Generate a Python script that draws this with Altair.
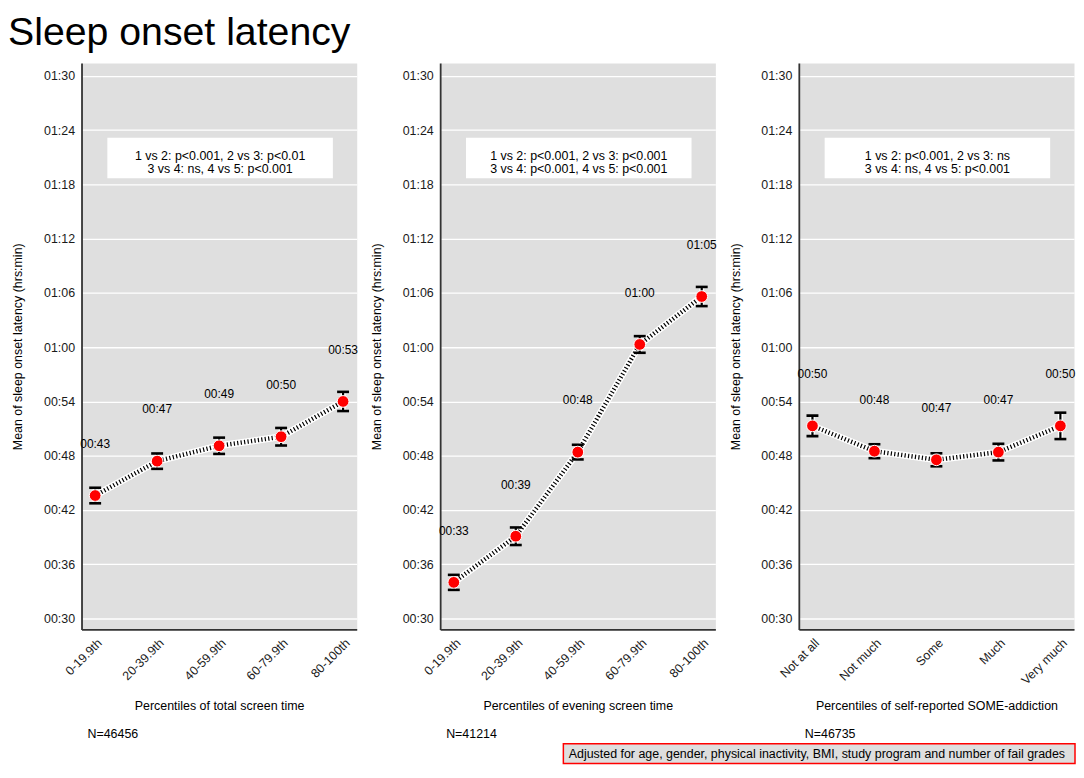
import altair as alt
import pandas as pd

# ---------------- data ----------------
cats_screen = ["0-19.9th", "20-39.9th", "40-59.9th", "60-79.9th", "80-100th"]
cats_some = ["Not at all", "Not much", "Some", "Much", "Very much"]

total_mean = [43.6, 47.4, 49.1, 50.1, 54.0]
total_err = [0.86, 0.85, 0.90, 0.97, 1.06]
total_labels = ["00:43", "00:47", "00:49", "00:50", "00:53"]

evening_mean = [34.0, 39.1, 48.4, 60.3, 65.6]
evening_err = [0.83, 0.97, 0.81, 0.92, 1.06]
evening_labels = ["00:33", "00:39", "00:48", "01:00", "01:05"]

some_mean = [51.3, 48.5, 47.55, 48.4, 51.3]
some_err = [1.13, 0.77, 0.72, 0.92, 1.46]
some_labels = ["00:50", "00:48", "00:47", "00:47", "00:50"]

x_titles = [
    "Percentiles of total screen time",
    "Percentiles of evening screen time",
    "Percentiles of self-reported SOME-addiction",
]
n_texts = ["N=46456", "N=41214", "N=46735"]
annotations = [
    "1 vs 2: p<0.001, 2 vs 3: p<0.01\n3 vs 4: ns, 4 vs 5: p<0.001",
    "1 vs 2: p<0.001, 2 vs 3: p<0.001\n3 vs 4: p<0.001, 4 vs 5: p<0.001",
    "1 vs 2: p<0.001, 2 vs 3: ns\n3 vs 4: ns, 4 vs 5: p<0.001",
]
footnote = "Adjusted for age, gender, physical inactivity, BMI, study program and number of fail grades"
y_title = "Mean of sleep onset latency (hrs:min)"
main_title = "Sleep onset latency"
y_ticks = [30, 36, 42, 48, 54, 60, 66, 72, 78, 84, 90]
y_domain = [28.8, 91.4]

W = 277
H = 570
FONT = "Liberation Sans"

label_expr = ("'0' + floor(datum.value / 60) + ':' + "
              "(datum.value % 60 < 10 ? '0' : '') + (datum.value % 60)")


def panel(cats, means, errs, labels, xtitle, ntext, annot, with_footnote=False):
    df = pd.DataFrame({
        "cat": cats,
        "mean": means,
        "lo": [m - e for m, e in zip(means, errs)],
        "hi": [m + e for m, e in zip(means, errs)],
        "label": labels,
    })

    def X():
        return alt.X(
            "cat:N", sort=cats,
            scale=alt.Scale(type="point", padding=0.22),
            axis=alt.Axis(title=xtitle, labelAngle=-45, labelAlign="right",
                          labelBaseline="top", labelPadding=7, ticks=False,
                          grid=False, labelOverlap=False,
                          titleY=77, titleBaseline="middle"),
        )

    def Y(field):
        return alt.Y(
            f"{field}:Q",
            scale=alt.Scale(domain=y_domain, nice=False, zero=False),
            axis=alt.Axis(title=y_title, values=y_ticks, labelExpr=label_expr,
                          labelPadding=7, ticks=False, grid=True,
                          titleX=-57, titleY=H / 2, titleBaseline="bottom",
                          titleAngle=-90),
        )

    base = alt.Chart(df)
    box = alt.Chart(pd.DataFrame({"t": [annot]})).mark_rect(fill="white").encode(
        x=alt.value(26), x2=alt.value(253), y=alt.value(75), y2=alt.value(116))
    box_text = alt.Chart(pd.DataFrame({"t": [annot]})).mark_text(
        lineBreak="\n", fontSize=12.5, lineHeight=13, align="center",
        baseline="middle", color="black").encode(
        x=alt.value(139.5), y=alt.value(94), text="t:N")

    halo = base.mark_line(color="white", strokeWidth=7).encode(x=X(), y=Y("mean"))
    dots = base.mark_line(color="black", strokeWidth=4.5,
                          strokeDash=[1.2, 2.3]).encode(x=X(), y=Y("mean"))
    rule_halo = base.mark_rule(color="white", strokeWidth=5).encode(
        x=X(), y=Y("lo"), y2="hi:Q")
    rule = base.mark_rule(color="black", strokeWidth=2.2).encode(
        x=X(), y=Y("lo"), y2="hi:Q")
    tick_lo = base.mark_tick(color="black", size=12, thickness=2.6, opacity=1).encode(
        x=X(), y=Y("lo"))
    tick_hi = base.mark_tick(color="black", size=12, thickness=2.6, opacity=1).encode(
        x=X(), y=Y("hi"))
    pts = base.mark_circle(size=140, color="#ff0000", opacity=1,
                           stroke="white", strokeWidth=1).encode(x=X(), y=Y("mean"))
    txt = base.mark_text(dy=-52, fontSize=12, color="black").encode(
        x=X(), y=Y("mean"), text="label:N")

    ntxt = alt.Chart(pd.DataFrame({"t": [ntext]})).mark_text(
        align="left", baseline="middle", fontSize=12.5, color="black").encode(
        x=alt.value(6), y=alt.value(H + 105), text="t:N")

    layers = [halo, box, box_text, dots, rule_halo, rule, tick_lo, tick_hi, pts, txt, ntxt]
    if with_footnote:
        fbox = alt.Chart(pd.DataFrame({"t": [footnote]})).mark_rect(
            fill="#dedede", stroke="#ff0000", strokeWidth=1.5).encode(
            x=alt.value(-237), x2=alt.value(278),
            y=alt.value(H + 115), y2=alt.value(H + 135))
        ftxt = alt.Chart(pd.DataFrame({"t": [footnote]})).mark_text(
            align="right", baseline="middle", fontSize=12.5, color="black").encode(
            x=alt.value(268), y=alt.value(H + 125), text="t:N")
        layers += [fbox, ftxt]
    return alt.layer(*layers).properties(width=W, height=H)


p1 = panel(cats_screen, total_mean, total_err, total_labels,
           x_titles[0], n_texts[0], annotations[0])
p2 = panel(cats_screen, evening_mean, evening_err, evening_labels,
           x_titles[1], n_texts[1], annotations[1])
p3 = panel(cats_some, some_mean, some_err, some_labels,
           x_titles[2], n_texts[2], annotations[2], with_footnote=True)

chart = alt.hconcat(p1, p2, p3, spacing=84, bounds="flush").properties(
    title=alt.TitleParams(main_title, anchor="start", frame="group", dx=-74,
                          fontSize=39.5, fontWeight="normal", font=FONT,
                          color="black", offset=10),
    padding={"left": 0, "top": 2, "right": 0, "bottom": 0},
).configure(font=FONT).configure_view(
    fill="#dfdfdf", strokeOpacity=0
).configure_axis(
    labelFont=FONT, titleFont=FONT, labelFontSize=12.5, titleFontSize=12.5,
    labelColor="#1a1a1a", titleColor="black", titleFontWeight="normal",
    domainColor="#333333", domainWidth=1.8, gridColor="white", gridWidth=1.3,
)

chart.save("out.html", embed_options={"renderer": "svg", "actions": False})
